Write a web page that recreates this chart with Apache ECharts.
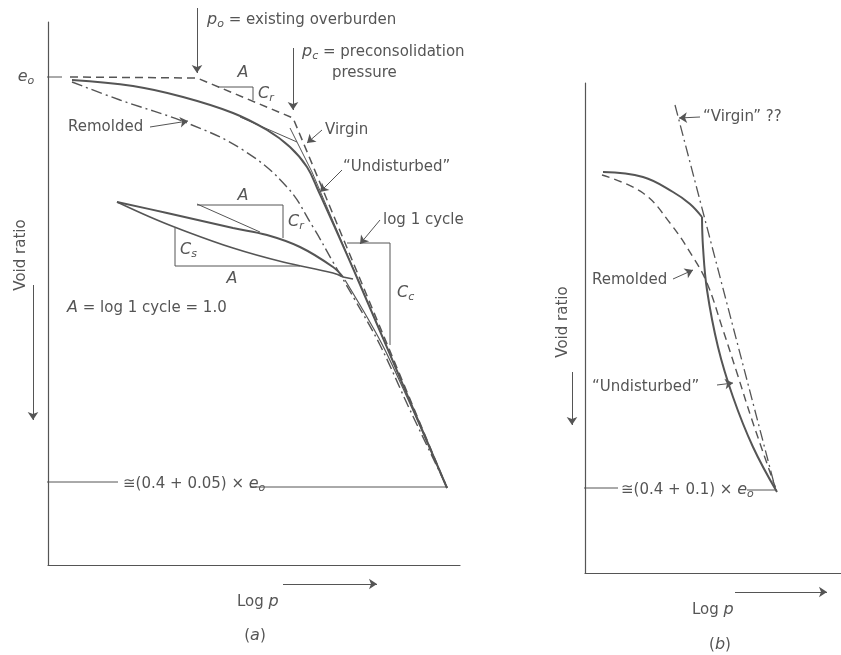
<!DOCTYPE html>
<html>
<head>
<meta charset="utf-8">
<title>Void ratio vs log p</title>
<script src="https://cdn.jsdelivr.net/npm/echarts@6/dist/echarts.min.js"></script>
<style>
    html, body { margin: 0; background: #fff; }
    #main { width: 841px; height: 655px; }
</style>
</head>
<body>
<div id="main"></div>
<script>
    // values: x = log p, y = void ratio (figure units, no ticks)

    // ---- panel (a)
    const aE0Tick = [[-0.12, 4.88], [0.14, 4.88]];
    const aConstruction = [[0.22, 4.88], [1.49, 4.87], [2.45, 4.47], [3.99, 0.77]];
    const aUndisturbed = [[0.24, 4.85], [0.85, 4.79], [1.35, 4.68], [1.85, 4.52], [2.19, 4.35],
        [2.42, 4.18], [2.59, 3.98], [2.70, 3.75], [3.10, 2.85], [3.99, 0.77]];
    const aVirginThin = [[2.42, 4.37], [2.64, 3.93], [3.99, 0.77]];
    const aTangent = [[1.92, 4.48], [2.49, 4.23]];
    const aRemolded = [[0.24, 4.83], [0.72, 4.65], [1.39, 4.42], [1.95, 4.15], [2.39, 3.78],
        [2.65, 3.38], [2.85, 3.03], [3.07, 2.65], [3.32, 2.20], [3.62, 1.55], [3.99, 0.78]];
    const aLoopUpper = [[0.69, 3.63], [1.19, 3.52], [1.85, 3.37], [2.19, 3.30], [2.52, 3.18],
        [2.85, 2.98], [2.95, 2.88]];
    const aLoopHook = [[2.95, 2.88], [3.05, 2.86]];
    const aLoopLower = [[0.69, 3.63], [1.02, 3.48], [1.29, 3.37], [1.85, 3.17], [2.35, 3.03],
        [2.85, 2.92], [2.95, 2.88]];
    const aReload = [[2.97, 2.85], [3.37, 2.15], [3.99, 0.77]];
    const aLoopCr = [[1.49, 3.61], [2.12, 3.33]];
    const aBoxTop = [[1.70, 4.78], [2.05, 4.78], [2.05, 4.65]];
    const aBoxCr = [[1.49, 3.60], [2.35, 3.60], [2.35, 3.27]];
    const aBoxCs = [[1.27, 3.37], [1.27, 2.99], [2.52, 2.99]];
    const aBoxCc = [[2.99, 3.22], [3.42, 3.22], [3.42, 2.20]];
    const aFinalLeft = [[-0.03, 0.83], [0.70, 0.83]];
    const aFinalRight = [[2.02, 0.78], [3.99, 0.78]];
    const aArrows = [
        [[1.49, 5.57], [1.49, 4.92]],   // p_o
        [[2.45, 5.17], [2.45, 4.55]],   // p_c
        [[1.02, 4.38], [1.40, 4.44]],   // Remolded
        [[2.74, 4.35], [2.59, 4.22]],   // Virgin
        [[2.94, 3.95], [2.72, 3.73]],   // Undisturbed
        [[3.32, 3.45], [3.12, 3.21]],   // log 1 cycle
        [[-0.15, 2.80], [-0.15, 1.45]], // void ratio
        [[2.35, -0.19], [3.29, -0.19]]  // log p
    ];

    // ---- panel (b)
    const bVirgin = [[0.90, 4.68], [1.91, 0.82]];
    const bUndisturbedTop = [[0.18, 4.01], [0.58, 3.96], [0.88, 3.81], [1.05, 3.69], [1.17, 3.56]];
    const bUndisturbedLow = [[1.17, 3.56], [1.18, 3.26], [1.22, 2.83], [1.33, 2.26], [1.48, 1.76],
        [1.68, 1.26], [1.92, 0.81]];
    const bRemolded = [[0.17, 3.98], [0.58, 3.80], [0.85, 3.50], [1.08, 3.16], [1.22, 2.90],
        [1.38, 2.43], [1.52, 2.00], [1.67, 1.53], [1.92, 0.81]];
    const bFinalLeft = [[-0.03, 0.85], [0.33, 0.85]];
    const bFinalRight = [[1.62, 0.83], [1.92, 0.83]];
    const bArrows = [
        [[1.15, 4.56], [0.94, 4.55]],   // Virgin ??
        [[0.88, 2.94], [1.08, 3.03]],   // Remolded
        [[1.32, 1.88], [1.48, 1.90]],   // Undisturbed
        [[-0.13, 2.01], [-0.13, 1.48]], // void ratio
        [[1.50, -0.19], [2.42, -0.19]]  // log p
    ];

    const INK = '#555';
    const TEXT = '#555';
    const FONT = 'DejaVu Sans';
    const DASH = [8, 5];
    const DASHDOT = [11, 4, 2, 4];

    function curve(data, grid, width, type, smooth) {
        return {
            type: 'line', xAxisIndex: grid, yAxisIndex: grid, data: data,
            symbol: 'none', clip: false, silent: true, smooth: smooth || false,
            lineStyle: { color: INK, width: width, type: type || 'solid' }
        };
    }

    function arrows(list, grid) {
        return {
            type: 'lines', coordinateSystem: 'cartesian2d', xAxisIndex: grid, yAxisIndex: grid,
            clip: false, silent: true, symbol: ['none', 'arrow'], symbolSize: 8,
            lineStyle: { color: INK, width: 1, opacity: 1, curveness: 0 },
            data: list.map(c => ({ coords: c }))
        };
    }

    const base = { fontFamily: FONT, fontWeight: 'normal', fill: TEXT, lineHeight: 20 };
    const rich = {
        i: Object.assign({}, base, { fontStyle: 'italic', fontSize: 16 }),
        s: Object.assign({}, base, { fontStyle: 'italic', fontSize: 11, lineHeight: 10, verticalAlign: 'bottom' }),
        n: Object.assign({}, base, { fontSize: 15 })
    };

    function label(x, y, text, align, extra) {
        return Object.assign({
            type: 'text', x: x, y: y, silent: true,
            style: {
                text: text, rich: rich, fill: TEXT, fontFamily: FONT, fontSize: 15,
                fontWeight: 'normal', align: align || 'left', verticalAlign: 'middle'
            }
        }, extra || {});
    }

    function axisPair(grid, xMax, yMax) {
        const line = { show: true, lineStyle: { color: INK, width: 1.2 } };
        return {
            x: { type: 'value', gridIndex: grid, min: 0, max: xMax, axisLine: line,
                 axisTick: { show: false }, axisLabel: { show: false }, splitLine: { show: false } },
            y: { type: 'value', gridIndex: grid, min: 0, max: yMax, axisLine: line,
                 axisTick: { show: false }, axisLabel: { show: false }, splitLine: { show: false } }
        };
    }

    const axA = axisPair(0, 4.12, 5.43);
    const axB = axisPair(1, 2.56, 4.90);

    const chart = echarts.init(document.getElementById('main'));
    chart.setOption({
        backgroundColor: '#fff',
        animation: false,
        grid: [
            { left: 48, top: 22, width: 412, height: 543 },
            { left: 585, top: 83, width: 256, height: 490 }
        ],
        xAxis: [axA.x, axB.x],
        yAxis: [axA.y, axB.y],
        series: [
            curve(aE0Tick, 0, 1),
            curve(aConstruction, 0, 1.5, DASH),
            curve(aUndisturbed, 0, 2, 'solid', 0.4),
            curve(aVirginThin, 0, 1),
            curve(aTangent, 0, 1),
            curve(aRemolded, 0, 1.4, DASHDOT, 0.4),
            curve(aLoopUpper, 0, 2, 'solid', 0.4),
            curve(aLoopHook, 0, 1.6),
            curve(aLoopLower, 0, 1.6, 'solid', 0.4),
            curve(aReload, 0, 1.2, 'solid', 0.3),
            curve(aLoopCr, 0, 1),
            curve(aBoxTop, 0, 1),
            curve(aBoxCr, 0, 1),
            curve(aBoxCs, 0, 1),
            curve(aBoxCc, 0, 1),
            curve(aFinalLeft, 0, 1),
            curve(aFinalRight, 0, 1),
            arrows(aArrows, 0),

            curve(bVirgin, 1, 1.3, DASHDOT),
            curve(bUndisturbedTop, 1, 2, 'solid', 0.4),
            curve(bUndisturbedLow, 1, 2, 'solid', 0.4),
            curve(bRemolded, 1, 1.4, DASH, 0.4),
            curve(bFinalLeft, 1, 1),
            curve(bFinalRight, 1, 1),
            arrows(bArrows, 1)
        ],
        graphic: [
            // panel (a)
            label(26, 77, '{i|e}{s|o}', 'center'),
            label(207, 20, '{i|p}{s|o}{n| = existing overburden}'),
            label(302, 52, '{i|p}{s|c}{n| = preconsolidation}'),
            label(332, 73, 'pressure'),
            label(243, 73, '{i|A}', 'center'),
            label(258, 94, '{i|C}{s|r}'),
            label(68, 127, 'Remolded'),
            label(325, 130, 'Virgin'),
            label(343, 167, '\u201cUndisturbed\u201d'),
            label(383, 220, 'log 1 cycle'),
            label(243, 196, '{i|A}', 'center'),
            label(288, 222, '{i|C}{s|r}'),
            label(180, 250, '{i|C}{s|s}'),
            label(232, 279, '{i|A}', 'center'),
            label(397, 293, '{i|C}{s|c}'),
            label(67, 308, '{i|A}{n| = log 1 cycle = 1.0}'),
            label(21, 255, 'Void ratio', 'center', { rotation: Math.PI / 2 }),
            label(123, 484, '{n|\u2245(0.4 + 0.05) \u00d7 }{i|e}{s|o}'),
            label(237, 602, '{n|Log }{i|p}'),
            label(255, 636, '{n|(}{i|a}{n|)}', 'center'),
            // panel (b)
            label(703, 117, '\u201cVirgin\u201d ??'),
            label(592, 280, 'Remolded'),
            label(592, 387, '\u201cUndisturbed\u201d'),
            label(621, 490, '{n|\u2245(0.4 + 0.1) \u00d7 }{i|e}{s|o}'),
            label(563, 322, 'Void ratio', 'center', { rotation: Math.PI / 2 }),
            label(692, 610, '{n|Log }{i|p}'),
            label(720, 645, '{n|(}{i|b}{n|)}', 'center')
        ]
    });
</script>
</body>
</html>
